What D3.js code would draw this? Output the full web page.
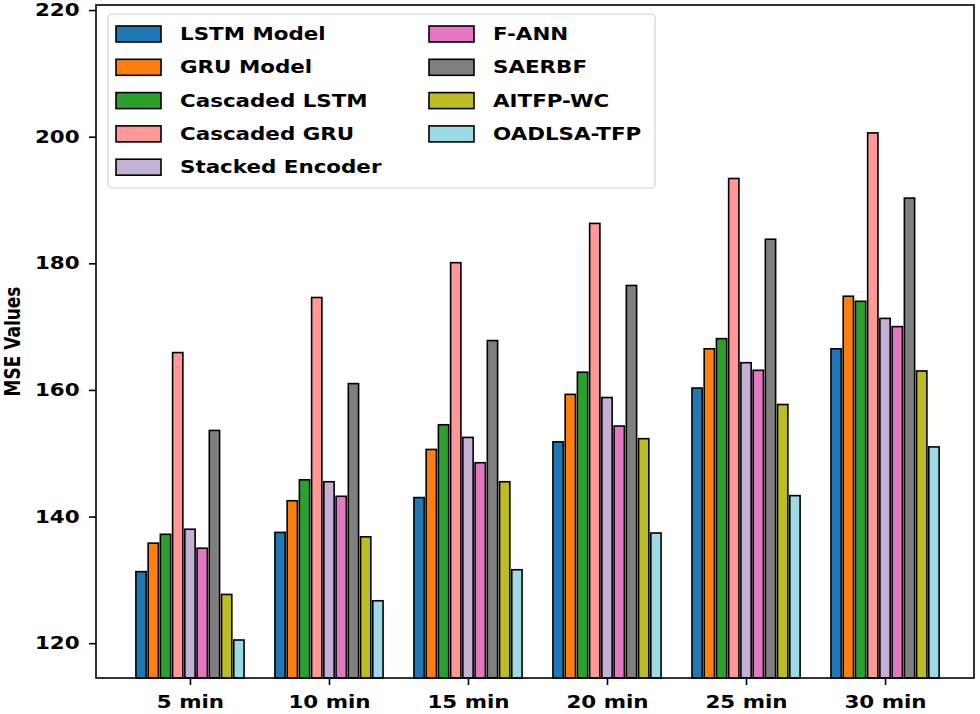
<!DOCTYPE html>
<html>
<head>
<meta charset="utf-8">
<script src="https://cdn.jsdelivr.net/npm/d3@7"></script>
<style>
  body { margin: 0; background: #fff; }
  text { font-family: "DejaVu Sans", sans-serif; font-weight: bold; }
</style>
</head>
<body>
<div id="chart"></div>
<script>
// categories and series
var categories = ["5 min", "10 min", "15 min", "20 min", "25 min", "30 min"];
var seriesNames = ["LSTM Model", "GRU Model", "Cascaded LSTM", "Cascaded GRU", "Stacked Encoder",
                   "F-ANN", "SAERBF", "AITFP-WC", "OADLSA-TFP"];
var seriesColors = ["#1f77b4", "#ff7f0e", "#2ca02c", "#ff9896", "#c5b0d5",
                    "#e377c2", "#7f7f7f", "#bcbd22", "#9edae5"];
var lstmModel   = [131.3, 137.5, 143.0, 151.8, 160.3, 166.5];
var gruModel    = [135.8, 142.5, 150.6, 159.3, 166.5, 174.8];
var cascLstm    = [137.2, 145.8, 154.5, 162.8, 168.1, 174.0];
var cascGru     = [165.9, 174.6, 180.1, 186.3, 193.4, 200.6];
var stackedEnc  = [138.0, 145.5, 152.5, 158.8, 164.3, 171.3];
var fAnn        = [135.0, 143.2, 148.5, 154.3, 163.1, 170.0];
var saerbf      = [153.6, 161.0, 167.8, 176.5, 183.8, 190.3];
var aitfpWc     = [127.7, 136.8, 145.5, 152.3, 157.7, 163.0];
var oadlsaTfp   = [120.5, 126.7, 131.6, 137.4, 143.3, 151.0];
var seriesValues = [lstmModel, gruModel, cascLstm, cascGru, stackedEnc, fAnn, saerbf, aitfpWc, oadlsaTfp];
var yTicks = [120, 140, 160, 180, 200, 220];

var width = 980, height = 714;
// plot area edges (window.top is taken, so use other names)
var plotL = 96, plotR = 974, plotT = 5, plotB = 678;
// text in the reference is stretched sideways
var sx = 1.26;

var svg = d3.select("#chart").append("svg")
  .attr("width", width)
  .attr("height", height);

var xScale = d3.scaleLinear().domain([-0.676, 5.64]).range([plotL, plotR]);
var yScale = d3.scaleLinear().domain([114.5, 220.8]).range([plotB, plotT]);

var step = 0.088, barW = 0.074;

// bars
var bars = svg.append("g");
seriesValues.forEach(function(vals, s) {
  bars.selectAll(null)
    .data(vals)
    .enter()
    .append("rect")
    .attr("x", function(d, i) { return xScale(i + (s - 4) * step - barW / 2); })
    .attr("width", xScale(barW) - xScale(0))
    .attr("y", function(d) { return yScale(d); })
    .attr("height", function(d) { return plotB - yScale(d); })
    .attr("fill", seriesColors[s])
    .attr("stroke", "#000")
    .attr("stroke-width", 1.6);
});

// axes
var xAxis = d3.axisBottom(xScale)
  .tickValues(d3.range(categories.length))
  .tickFormat(function(i) { return categories[i]; })
  .tickSize(7).tickSizeOuter(0).tickPadding(11);
var yAxis = d3.axisLeft(yScale)
  .tickValues(yTicks)
  .tickSize(7).tickSizeOuter(0).tickPadding(6);

var gx = svg.append("g").attr("transform", "translate(0," + plotB + ")").call(xAxis);
var gy = svg.append("g").attr("transform", "translate(" + plotL + ",0)").call(yAxis);
[gx, gy].forEach(function(g) {
  g.select(".domain").remove();
  g.selectAll(".tick line").attr("stroke", "#000").attr("stroke-width", 1.6);
  g.selectAll(".tick text")
    .attr("fill", "#000")
    .style("font-size", "17px")
    .attr("transform", "scale(" + sx + ",1)");
});

// frame
svg.append("rect")
  .attr("x", plotL).attr("y", plotT)
  .attr("width", plotR - plotL).attr("height", plotB - plotT)
  .attr("fill", "none").attr("stroke", "#000").attr("stroke-width", 1.6);

// y label
svg.append("text")
  .attr("transform", "translate(20," + ((plotT + plotB) / 2) + ") rotate(-90) scale(1," + sx + ")")
  .attr("text-anchor", "middle")
  .style("font-size", "17px")
  .text("MSE Values");

// legend
var legend = svg.append("g");
legend.append("rect")
  .attr("x", 108).attr("y", 14)
  .attr("width", 547).attr("height", 174)
  .attr("rx", 4)
  .attr("fill", "#fff").attr("fill-opacity", 0.8)
  .attr("stroke", "#d0d0d0").attr("stroke-width", 1.2);

var items = legend.selectAll(null)
  .data(seriesNames)
  .enter()
  .append("g")
  .attr("transform", function(d, i) {
    var col = i < 5 ? 0 : 1, row = i < 5 ? i : i - 5;
    return "translate(" + (col === 0 ? 116 : 429) + "," + (34 + row * 33.3) + ")";
  });
items.append("rect")
  .attr("x", 0).attr("y", -8)
  .attr("width", 45).attr("height", 16)
  .attr("fill", function(d, i) { return seriesColors[i]; })
  .attr("stroke", "#000").attr("stroke-width", 1.6);
items.append("text")
  .attr("transform", "translate(64,0) scale(" + sx + ",1)")
  .attr("dy", "0.36em")
  .style("font-size", "17px")
  .text(function(d) { return d; });
</script>
</body>
</html>
